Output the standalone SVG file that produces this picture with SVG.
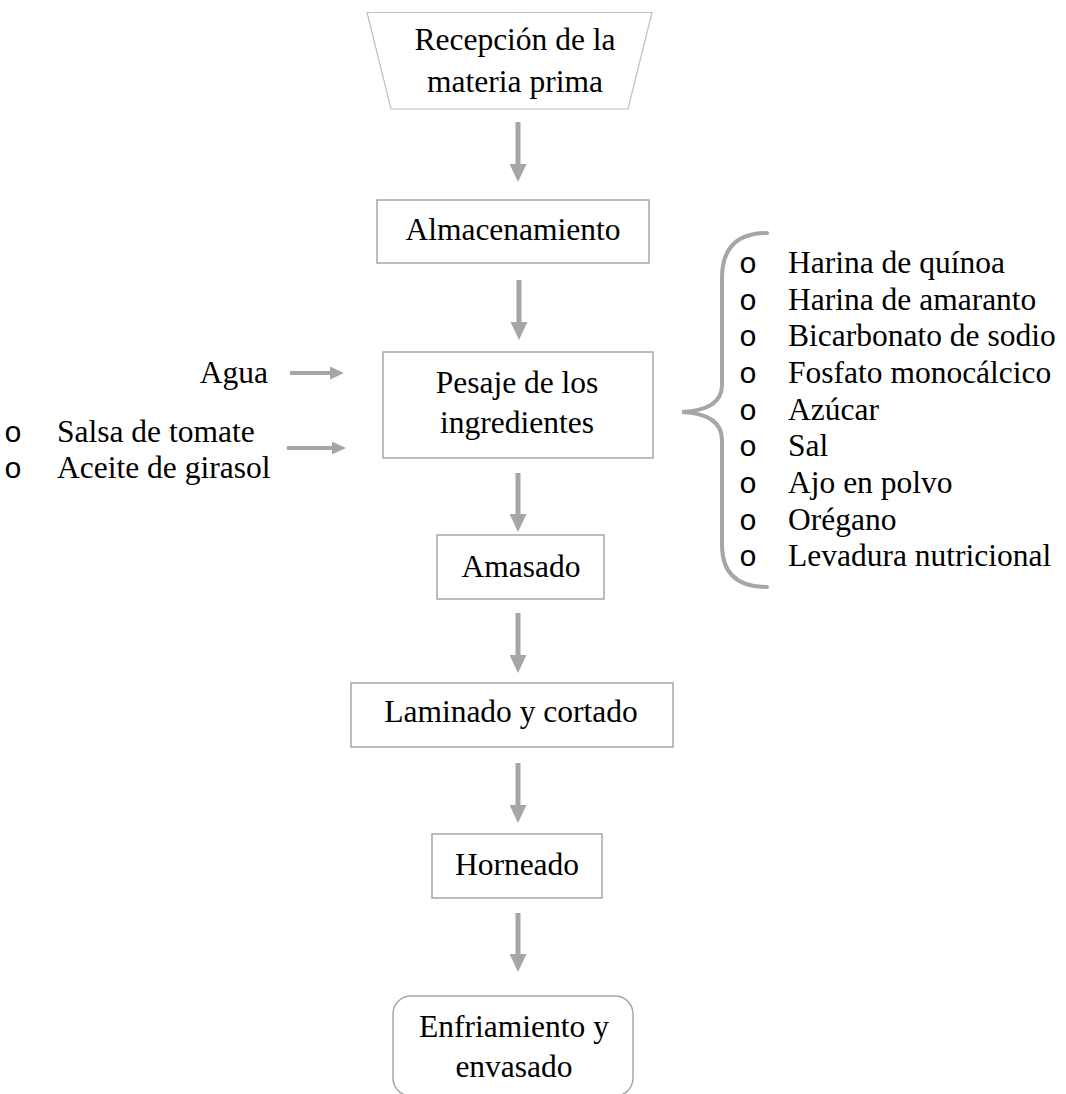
<svg xmlns="http://www.w3.org/2000/svg" width="1066" height="1094" viewBox="0 0 1066 1094">
  <style>
    .box { fill: #ffffff; stroke: #a6a6a6; stroke-width: 1.5; }
    .trap { fill: #ffffff; stroke: #bfbfbf; stroke-width: 1.2; }
    .lbl { font-family: "Liberation Serif", "Times New Roman", serif; font-size: 31.5px; fill: #000000; }
    .mid { text-anchor: middle; }
    .end { text-anchor: end; }
    .bul { font-family: "Liberation Mono", "Courier New", monospace; font-size: 30px; fill: #000000; }
    .shaft { stroke: #a6a6a6; stroke-width: 5; fill: none; }
    .shaft-h { stroke: #a6a6a6; stroke-width: 4; fill: none; }
    .brace { stroke: #a6a6a6; stroke-width: 4; fill: none; stroke-linecap: round; }
  </style>
  <defs>
    <marker id="head-v" markerUnits="userSpaceOnUse" markerWidth="18" markerHeight="17" refX="0" refY="8.5" orient="auto">
      <path d="M0,0 L18,8.5 L0,17 z" fill="#a6a6a6"/>
    </marker>
    <marker id="head-h" markerUnits="userSpaceOnUse" markerWidth="14" markerHeight="13" refX="0" refY="6.5" orient="auto">
      <path d="M0,0 L14,6.5 L0,13 z" fill="#a6a6a6"/>
    </marker>
  </defs>

  <rect width="1066" height="1094" fill="#ffffff"/>

  <!-- connectors -->
  <g id="connectors">
    <line class="shaft" x1="518" y1="122" x2="518" y2="164" marker-end="url(#head-v)"/>
    <line class="shaft" x1="519" y1="280" x2="519" y2="322" marker-end="url(#head-v)"/>
    <line class="shaft" x1="518" y1="473" x2="518" y2="514" marker-end="url(#head-v)"/>
    <line class="shaft" x1="518" y1="613" x2="518" y2="655" marker-end="url(#head-v)"/>
    <line class="shaft" x1="518" y1="763" x2="518" y2="805" marker-end="url(#head-v)"/>
    <line class="shaft" x1="518" y1="913" x2="518" y2="954" marker-end="url(#head-v)"/>
    <line class="shaft-h" x1="290" y1="373" x2="330" y2="373" marker-end="url(#head-h)"/>
    <line class="shaft-h" x1="287" y1="448" x2="332" y2="448" marker-end="url(#head-h)"/>
    <path class="brace" d="M767,233 Q722,233 722,278 L722,385 Q722,410 682,412 Q722,414 722,440 L722,545 Q722,587 767,587"/>
  </g>

  <!-- nodes -->
  <g id="recepcion">
    <polygon class="trap" points="367,12.5 652,12.5 628,109 391,109"/>
    <text class="lbl mid" x="515" y="50">Recepción de la</text>
    <text class="lbl mid" x="515" y="92">materia prima</text>
  </g>

  <g id="almacenamiento">
    <rect class="box" x="377" y="200" width="272" height="63"/>
    <text class="lbl mid" x="513" y="240">Almacenamiento</text>
  </g>

  <g id="pesaje">
    <rect class="box" x="383" y="352" width="270" height="106"/>
    <text class="lbl mid" x="517" y="393">Pesaje de los</text>
    <text class="lbl mid" x="517" y="433">ingredientes</text>
  </g>

  <g id="agua">
    <text class="lbl end" x="268" y="383">Agua</text>
  </g>

  <g id="liquidos">
    <text class="bul" x="4" y="442">o</text>
    <text class="lbl" x="57" y="442">Salsa de tomate</text>
    <text class="bul" x="4" y="478">o</text>
    <text class="lbl" x="57" y="478">Aceite de girasol</text>
  </g>

  <g id="secos">
    <text class="bul" x="739" y="273">o</text>
    <text class="lbl" x="788" y="273">Harina de quínoa</text>
    <text class="bul" x="739" y="310">o</text>
    <text class="lbl" x="788" y="310">Harina de amaranto</text>
    <text class="bul" x="739" y="346">o</text>
    <text class="lbl" x="788" y="346">Bicarbonato de sodio</text>
    <text class="bul" x="739" y="383">o</text>
    <text class="lbl" x="788" y="383">Fosfato monocálcico</text>
    <text class="bul" x="739" y="420">o</text>
    <text class="lbl" x="788" y="420">Azúcar</text>
    <text class="bul" x="739" y="456">o</text>
    <text class="lbl" x="788" y="456">Sal</text>
    <text class="bul" x="739" y="493">o</text>
    <text class="lbl" x="788" y="493">Ajo en polvo</text>
    <text class="bul" x="739" y="530">o</text>
    <text class="lbl" x="788" y="530">Orégano</text>
    <text class="bul" x="739" y="566">o</text>
    <text class="lbl" x="788" y="566">Levadura nutricional</text>
  </g>

  <g id="amasado">
    <rect class="box" x="437" y="535" width="167" height="64"/>
    <text class="lbl mid" x="521" y="577">Amasado</text>
  </g>

  <g id="laminado">
    <rect class="box" x="351" y="683" width="322" height="64"/>
    <text class="lbl mid" x="511" y="722">Laminado y cortado</text>
  </g>

  <g id="horneado">
    <rect class="box" x="432" y="834" width="170" height="64"/>
    <text class="lbl mid" x="517" y="875">Horneado</text>
  </g>

  <g id="enfriamiento">
    <rect class="box" x="393" y="996" width="240" height="100" rx="18" ry="18"/>
    <text class="lbl mid" x="514" y="1037">Enfriamiento y</text>
    <text class="lbl mid" x="514" y="1077">envasado</text>
  </g>
</svg>
